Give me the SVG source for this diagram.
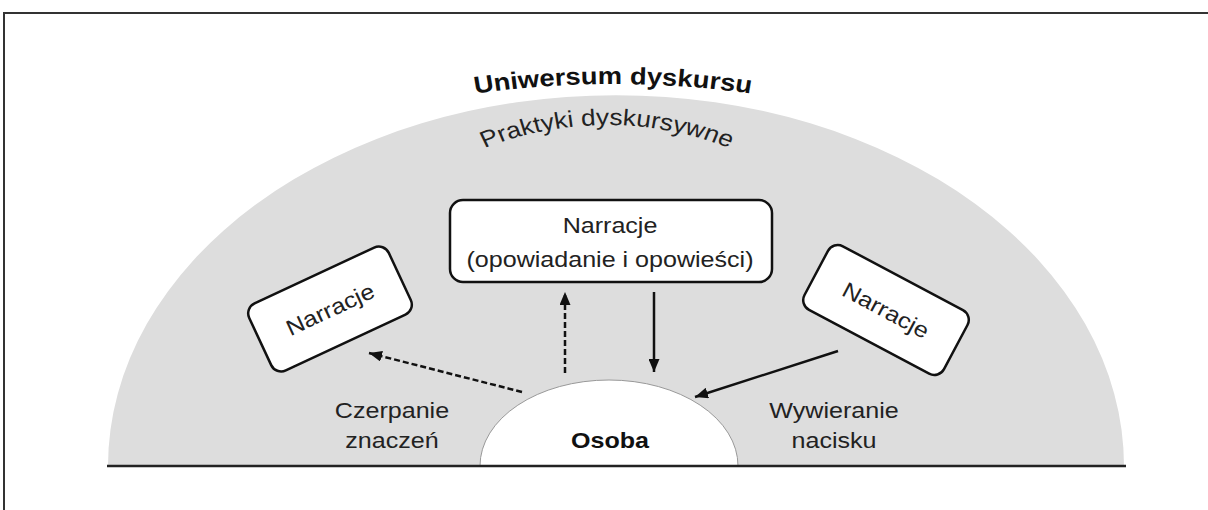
<svg xmlns="http://www.w3.org/2000/svg" width="1208" height="510" viewBox="0 0 1208 510">
  <style>
    .frame { stroke: #333; stroke-width: 2; fill: none; }
    .box { fill: #fff; stroke: #111; stroke-width: 2.5; }
    .lbl { font-family: "Liberation Sans", Arial, sans-serif; font-size: 22px; fill: #222; text-anchor: middle; }
    .bold { font-weight: bold; fill: #111; }
    .link { stroke: #111; stroke-width: 2.5; fill: none; }
    .dash { stroke-dasharray: 6 3; }
  </style>
  <defs>
    <marker id="head" viewBox="0 0 13 11" refX="13" refY="5.5" markerWidth="13" markerHeight="11" markerUnits="userSpaceOnUse" orient="auto">
      <path d="M0,0 L13,5.5 L0,11 Z" fill="#111"/>
    </marker>
    <path id="arcTitle" d="M -200,110.3 A 775 775 0 0 1 200,110.3"/>
    <path id="arcPractice" d="M -180,197.4 A 260 260 0 0 1 180,197.4"/>
  </defs>

  <rect width="1208" height="510" fill="#fff"/>

  <!-- page frame -->
  <path class="frame" d="M4,510 V13 H1208"/>

  <!-- universe of discourse dome -->
  <g id="universe">
    <path d="M108,466 A508 371 0 0 1 1124,466 Z" fill="#dddddd"/>
    <g transform="translate(613,0) scale(1.14,1)">
      <text class="lbl bold" style="font-size:24px"><textPath href="#arcTitle" startOffset="50%">Uniwersum dyskursu</textPath></text>
    </g>
    <g transform="translate(607,0) scale(1.14,1)">
      <text class="lbl" style="font-size:23px"><textPath href="#arcPractice" startOffset="50%">Praktyki dyskursywne</textPath></text>
    </g>
  </g>

  <!-- person -->
  <g id="person">
    <path d="M480,466 A129 86 0 0 1 738,466 Z" fill="#fff" stroke="#999" stroke-width="1"/>
    <text class="lbl bold" transform="translate(610,448) scale(1.14,1)">Osoba</text>
  </g>

  <!-- ground line -->
  <line x1="107" y1="466" x2="1126" y2="466" stroke="#222" stroke-width="2.5"/>

  <!-- central narratives -->
  <g id="narr-center">
    <rect class="box" x="450" y="200" width="322" height="82" rx="13"/>
    <text class="lbl" transform="translate(610,233) scale(1.14,1)">Narracje</text>
    <text class="lbl" transform="translate(610,267) scale(1.14,1)">(opowiadanie i opowieści)</text>
  </g>

  <!-- left narratives -->
  <g id="narr-left" transform="translate(330,309) rotate(-25)">
    <rect class="box" x="-77" y="-37" width="154" height="74" rx="11"/>
    <text class="lbl" transform="translate(0,8) scale(1.14,1)">Narracje</text>
  </g>

  <!-- right narratives -->
  <g id="narr-right" transform="translate(886,310) rotate(28)">
    <rect class="box" x="-79" y="-36" width="158" height="72" rx="11"/>
    <text class="lbl" transform="translate(0,8) scale(1.14,1)">Narracje</text>
  </g>

  <!-- side labels -->
  <g id="label-drawing">
    <text class="lbl" transform="translate(392,418) scale(1.14,1)">Czerpanie</text>
    <text class="lbl" transform="translate(392,448) scale(1.14,1)">znaczeń</text>
  </g>
  <g id="label-pressure">
    <text class="lbl" transform="translate(834,418) scale(1.14,1)">Wywieranie</text>
    <text class="lbl" transform="translate(834,448) scale(1.14,1)">nacisku</text>
  </g>

  <!-- connectors -->
  <g id="connectors">
    <line class="link dash" x1="522" y1="392" x2="369" y2="353" marker-end="url(#head)"/>
    <line class="link dash" x1="565" y1="373" x2="565" y2="292" marker-end="url(#head)"/>
    <line class="link" x1="654" y1="292" x2="654" y2="372" marker-end="url(#head)"/>
    <line class="link" x1="838" y1="351" x2="695" y2="397" marker-end="url(#head)"/>
  </g>
</svg>
